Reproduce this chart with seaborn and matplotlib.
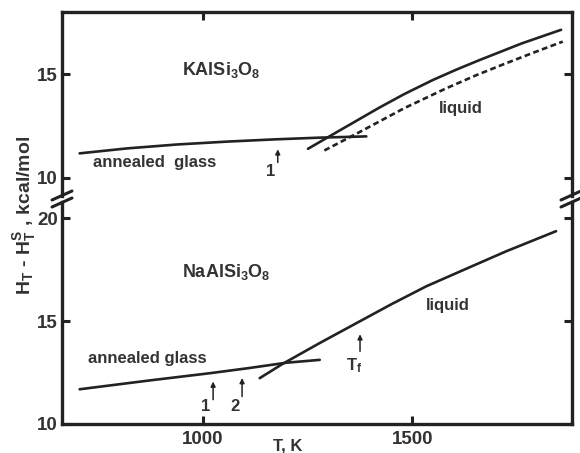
import numpy as np
import matplotlib
matplotlib.use("Agg")
import matplotlib.pyplot as plt
from matplotlib.lines import Line2D
import seaborn as sns

# KAlSi3O8 (upper panel)
k_glass_T = [707, 820, 940, 1060, 1176, 1280, 1390]
k_glass_H = [11.17, 11.41, 11.60, 11.74, 11.85, 11.93, 11.99]
k_liq_T = [1251, 1302, 1421, 1480, 1548, 1605, 1660, 1760, 1854]
k_liq_H = [11.39, 11.99, 13.38, 14.03, 14.71, 15.22, 15.68, 16.48, 17.14]
k_liq2_T = [1290, 1374, 1480, 1580, 1650, 1720, 1790, 1858]
k_liq2_H = [11.31, 12.20, 13.35, 14.31, 14.93, 15.50, 16.05, 16.57]

# NaAlSi3O8 (lower panel)
na_glass_T = [707, 874, 1017, 1110, 1199, 1279]
na_glass_H = [11.69, 12.12, 12.47, 12.72, 12.98, 13.12]
na_liq_T = [1136, 1191, 1280, 1374, 1450, 1533, 1630, 1723, 1842]
na_liq_H = [12.23, 12.93, 13.95, 14.99, 15.83, 16.70, 17.57, 18.40, 19.38]

x_ticks = [1000, 1500]
top_yticks = [10, 15]
bot_yticks = [10, 15, 20]

ink = "#222222"
txt = "#333333"

sns.set_style("ticks")
plt.rcParams["font.family"] = ["Liberation Sans", "DejaVu Sans"]
plt.rcParams["font.weight"] = "bold"
plt.rcParams["mathtext.default"] = "regular"

W, H = 580, 453
fig = plt.figure(figsize=(W / 100, H / 100), dpi=100)
left, right = 62 / W, 572 / W
ax_top = fig.add_axes([left, (H - 196) / H, right - left, (196 - 12) / H])
ax_bot = fig.add_axes([left, (H - 424) / H, right - left, (424 - 202) / H])

xlim = (665, 1880)
for ax in (ax_top, ax_bot):
    ax.set_xlim(*xlim)
    ax.set_facecolor("white")
    for s in ax.spines.values():
        s.set_linewidth(2.4)
        s.set_color(ink)
    ax.set_xticks(x_ticks)
    ax.tick_params(direction="in", length=6, width=2.2, color=ink,
                   labelsize=13.5, labelcolor=txt, pad=3,
                   left=True, right=True)

ax_top.set_ylim(9.11, 18.0)
ax_bot.set_ylim(10, 20.8)
ax_top.set_yticks(top_yticks)
ax_bot.set_yticks(bot_yticks)
ax_top.spines["bottom"].set_visible(False)
ax_bot.spines["top"].set_visible(False)
ax_top.tick_params(axis="x", top=True, bottom=False, labelbottom=False, labeltop=False)
ax_bot.tick_params(axis="x", top=False, bottom=True, pad=5)

# curves
lw = 1.9
sns.lineplot(x=k_glass_T, y=k_glass_H, ax=ax_top, color=ink, linewidth=lw)
sns.lineplot(x=k_liq_T, y=k_liq_H, ax=ax_top, color=ink, linewidth=lw)
sns.lineplot(x=k_liq2_T, y=k_liq2_H, ax=ax_top, color=ink, linewidth=lw,
             dashes=False, linestyle=(0, (2.2, 1.3)))
sns.lineplot(x=na_glass_T, y=na_glass_H, ax=ax_bot, color=ink, linewidth=lw)
sns.lineplot(x=na_liq_T, y=na_liq_H, ax=ax_bot, color=ink, linewidth=lw)
for ax in (ax_top, ax_bot):
    ax.set_xlabel("")
    ax.set_ylabel("")

fs = 12
fsf = 13
# labels upper panel
ax_top.text(952, 15.2, "KAlSi$_3$O$_8$", fontsize=fsf, color=txt, va="center")
ax_top.text(1564, 13.35, "liquid", fontsize=fs, color=txt, va="center")
ax_top.text(738, 10.74, "annealed  glass", fontsize=fs, color=txt, va="center")
ax_top.annotate("", xy=(1179, 11.5), xytext=(1179, 10.6),
                arrowprops=dict(arrowstyle="-|>", color=ink, lw=1.1, mutation_scale=7))
ax_top.text(1162, 10.3, "1", fontsize=fs, color=txt, ha="center", va="center")

# labels lower panel
ax_bot.text(952, 17.41, "NaAlSi$_3$O$_8$", fontsize=fsf, color=txt, va="center")
ax_bot.text(1533, 15.77, "liquid", fontsize=fs, color=txt, va="center")
ax_bot.text(726, 13.17, "annealed glass", fontsize=fs, color=txt, va="center")
arrows = [(1025, 12.2, 11.05, 1006, "1"), (1094, 12.37, 11.2, 1077, "2"),
          (1375, 14.5, 13.4, 1362, "T$_f$")]
for xa, tip, tail, xl, lab in arrows:
    ax_bot.annotate("", xy=(xa, tip), xytext=(xa, tail),
                    arrowprops=dict(arrowstyle="-|>", color=ink, lw=1.1, mutation_scale=7))
    ax_bot.text(xl, 10.85 if lab != "T$_f$" else 12.85, lab, fontsize=fs,
                color=txt, ha="center", va="center")

# axis titles
fig.text(288 / W, 1 - 446 / H, "T, K", fontsize=fs, color=txt, ha="center", va="center")
fig.text(25 / W, 1 - 215 / H, "H$_T$ - H$_T^S$ , kcal/mol", fontsize=14, color=txt,
         ha="center", va="center", rotation=90)

# break marks on both spines
for xs in (62, 571):
    for yc in (195.5, 202.5):
        xx = [(xs - 10) / W, (xs + 10) / W]
        yy = [1 - (yc + 4.5) / H, 1 - (yc - 4.5) / H]
        fig.add_artist(Line2D(xx, yy, color=ink, lw=2.2, transform=fig.transFigure))

fig.savefig("out.png", dpi=100)
